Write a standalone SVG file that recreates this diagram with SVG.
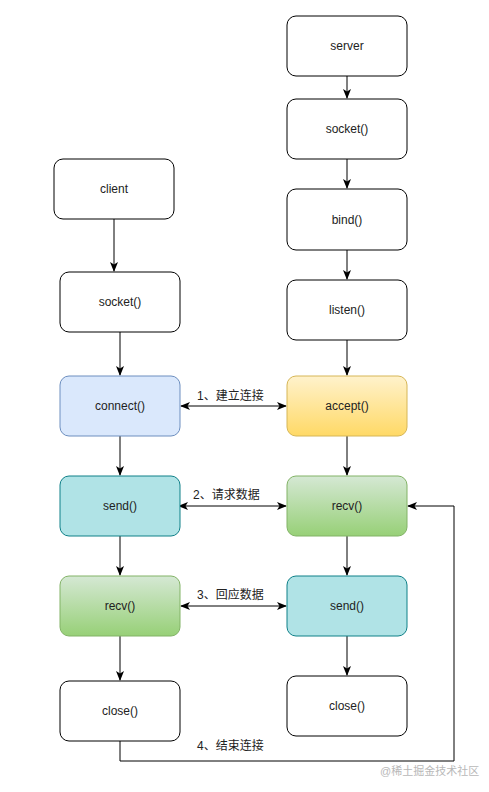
<svg xmlns="http://www.w3.org/2000/svg" width="489" height="792" viewBox="0 0 489 792">
<style>
.box{stroke-width:1}
.plain{fill:#ffffff;stroke:#000000}
.blue{fill:#dae8fc;stroke:#6c8ebf}
.yellow{fill:url(#gy);stroke:#d6b656}
.green{fill:url(#gg);stroke:#82b366}
.teal{fill:#b0e3e6;stroke:#0e8088}
text{font-family:"Liberation Sans","Noto Sans CJK SC",sans-serif;font-size:12px;fill:#222;text-anchor:middle;dominant-baseline:central}
.lbl{text-anchor:start}
.wm{font-size:11px;fill:#b8b8b8;text-anchor:start}
.c{fill:none;stroke:#000;stroke-width:1}
</style>
<defs>
<linearGradient id="gy" x1="0" y1="0" x2="0" y2="1"><stop offset="0" stop-color="#fff2cc"/><stop offset="1" stop-color="#ffd966"/></linearGradient>
<linearGradient id="gg" x1="0" y1="0" x2="0" y2="1"><stop offset="0" stop-color="#d5e8d4"/><stop offset="1" stop-color="#97d077"/></linearGradient>
<marker id="ae" viewBox="0 0 10 8" refX="9" refY="4" markerWidth="10" markerHeight="8" markerUnits="userSpaceOnUse" orient="auto">
<path d="M0,0 L10,4 L0,8 L2.5,4 z" fill="#000"/>
</marker>
<marker id="as" viewBox="0 0 10 8" refX="1" refY="4" markerWidth="10" markerHeight="8" markerUnits="userSpaceOnUse" orient="auto">
<path d="M10,0 L0,4 L10,8 L7.5,4 z" fill="#000"/>
</marker>
</defs>
<rect width="489" height="792" fill="#ffffff"/>
<g id="connectors">
<path class="c" d="M114,219 V271" marker-end="url(#ae)"/>
<path class="c" d="M120,332 V375" marker-end="url(#ae)"/>
<path class="c" d="M120,436 V475" marker-end="url(#ae)"/>
<path class="c" d="M120,536 V575" marker-end="url(#ae)"/>
<path class="c" d="M120,636 V680" marker-end="url(#ae)"/>
<path class="c" d="M347,76 V98" marker-end="url(#ae)"/>
<path class="c" d="M347,159 V188" marker-end="url(#ae)"/>
<path class="c" d="M347,250 V279" marker-end="url(#ae)"/>
<path class="c" d="M347,340 V375" marker-end="url(#ae)"/>
<path class="c" d="M347,436 V475" marker-end="url(#ae)"/>
<path class="c" d="M347,536 V575" marker-end="url(#ae)"/>
<path class="c" d="M347,636 V675" marker-end="url(#ae)"/>
<path class="c" d="M181,406 H286" marker-start="url(#as)" marker-end="url(#ae)"/>
<path class="c" d="M179,506 H286" marker-start="url(#as)" marker-end="url(#ae)"/>
<path class="c" d="M181,606 H286" marker-start="url(#as)" marker-end="url(#ae)"/>
<path class="c" d="M120,741 V761 H454 V506 H408" marker-end="url(#ae)"/>
<text class="lbl" x="197" y="396">1、建立连接</text>
<text class="lbl" x="193" y="495">2、请求数据</text>
<text class="lbl" x="197" y="595">3、回应数据</text>
<text class="lbl" x="197" y="746">4、结束连接</text>
</g>
<g id="client"><rect class="box plain" x="54" y="159" width="120" height="60" rx="9"/><text x="114" y="189">client</text></g>
<g id="c_socket"><rect class="box plain" x="60" y="272" width="120" height="60" rx="9"/><text x="120" y="302">socket()</text></g>
<g id="c_connect"><rect class="box blue" x="60" y="376" width="120" height="60" rx="9"/><text x="120" y="406">connect()</text></g>
<g id="c_send"><rect class="box teal" x="60" y="476" width="120" height="60" rx="9"/><text x="120" y="506">send()</text></g>
<g id="c_recv"><rect class="box green" x="60" y="576" width="120" height="60" rx="9"/><text x="120" y="606">recv()</text></g>
<g id="c_close"><rect class="box plain" x="60" y="681" width="120" height="60" rx="9"/><text x="120" y="711">close()</text></g>
<g id="server"><rect class="box plain" x="287" y="16" width="120" height="60" rx="9"/><text x="347" y="46">server</text></g>
<g id="s_socket"><rect class="box plain" x="287" y="99" width="120" height="60" rx="9"/><text x="347" y="129">socket()</text></g>
<g id="s_bind"><rect class="box plain" x="287" y="189" width="120" height="61" rx="9"/><text x="347" y="220">bind()</text></g>
<g id="s_listen"><rect class="box plain" x="287" y="280" width="120" height="60" rx="9"/><text x="347" y="310">listen()</text></g>
<g id="s_accept"><rect class="box yellow" x="287" y="376" width="120" height="60" rx="9"/><text x="347" y="406">accept()</text></g>
<g id="s_recv"><rect class="box green" x="287" y="476" width="120" height="60" rx="9"/><text x="347" y="506">recv()</text></g>
<g id="s_send"><rect class="box teal" x="287" y="576" width="120" height="60" rx="9"/><text x="347" y="606">send()</text></g>
<g id="s_close"><rect class="box plain" x="287" y="676" width="120" height="60" rx="9"/><text x="347" y="706">close()</text></g>
<text class="wm" x="380" y="771">@稀土掘金技术社区</text>
</svg>
